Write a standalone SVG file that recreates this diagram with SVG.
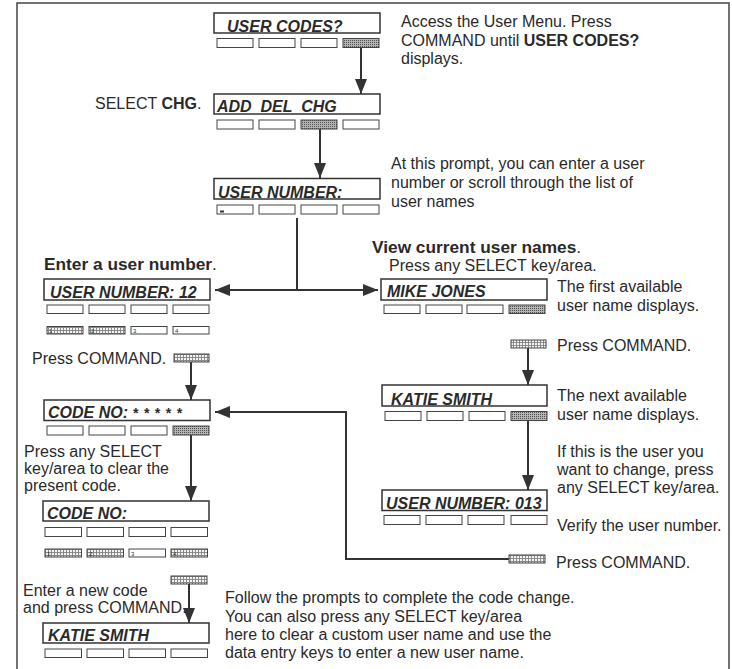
<svg xmlns="http://www.w3.org/2000/svg" width="732" height="669" viewBox="0 0 732 669">
<defs>
<style>
.t{font-family:"Liberation Sans",Arial,Helvetica,sans-serif;font-size:16px;fill:#2a2a2a}
.h{font-family:"Liberation Sans",Arial,Helvetica,sans-serif;font-size:17.3px;font-weight:bold;fill:#2a2a2a}
.b{font-weight:bold}
.d{font-family:"Liberation Sans",Arial,Helvetica,sans-serif;font-size:16px;font-weight:bold;font-style:italic;fill:#2a2a2a;white-space:pre}
.box{fill:#fff;stroke:#333;stroke-width:1.5}
.k{fill:#fff;stroke:#444;stroke-width:1}
.ks{fill:url(#dots);stroke:#444;stroke-width:1}
.kg{fill:url(#grid);stroke:#444;stroke-width:1}
.n{font-family:"Liberation Sans",Arial,sans-serif;font-size:6px;fill:#333}
.c{fill:none;stroke:#333;stroke-width:2}
.a{marker-end:url(#ah)}
</style>
<pattern id="dots" width="2" height="2" patternUnits="userSpaceOnUse"><rect width="2" height="2" fill="#b4b4b4"/><rect width="1" height="1" fill="#505050"/></pattern>
<pattern id="grid" width="3" height="3" patternUnits="userSpaceOnUse"><rect width="3" height="3" fill="#f4f4f4"/><path d="M0,0.5H3M0.5,0V3" stroke="#8a8a8a" stroke-width="1"/></pattern>
<marker id="ah" markerWidth="15" markerHeight="12" refX="15" refY="6" orient="auto" markerUnits="userSpaceOnUse"><path d="M0,0 L15,6 L0,12 z" fill="#333"/></marker>
</defs>
<rect x="0" y="0" width="732" height="669" fill="#fff"/>
<path d="M17,669 V3 H729 V669" fill="none" stroke="#444" stroke-width="1.5"/>

<g id="connectors">
<path class="c a" d="M361,48 V94"/>
<path class="c a" d="M320,129 V178"/>
<path class="c a" d="M297,218 V290 H215"/>
<path class="c a" d="M297,290 H378"/>
<path class="c a" d="M191,362 V400"/>
<path class="c a" d="M528,348 V385"/>
<path class="c a" d="M528,421 V490"/>
<path class="c a" d="M191,435 V501"/>
<path class="c a" d="M509,559 H346 V412 H215"/>
<path class="c a" d="M189,584 V623"/>
</g>

<g id="user-codes">
<rect class="box" x="214" y="13" width="166" height="20"/>
<text class="d" x="227" y="32">USER CODES?</text>
<rect class="k" x="217" y="38.5" width="36" height="9"/>
<rect class="k" x="259" y="38.5" width="36" height="9"/>
<rect class="k" x="301" y="38.5" width="36" height="9"/>
<rect class="ks" x="343" y="38.5" width="36" height="9"/>
</g>
<g id="note-access">
<text class="t" x="401" y="27">Access the User Menu. Press</text>
<text class="t" x="401" y="46">COMMAND until <tspan class="b">USER CODES?</tspan></text>
<text class="t" x="401" y="64">displays.</text>
</g>

<g id="add-del-chg">
<rect class="box" x="214" y="94" width="166" height="20"/>
<text class="d" x="217" y="112">ADD  DEL  CHG</text>
<rect class="k" x="217" y="120" width="36" height="9"/>
<rect class="k" x="259" y="120" width="36" height="9"/>
<rect class="ks" x="301" y="120" width="36" height="9"/>
<rect class="k" x="343" y="120" width="36" height="9"/>
</g>
<g id="note-select-chg">
<text class="t" x="95" y="109">SELECT <tspan class="b">CHG</tspan>.</text>
</g>

<g id="user-number">
<rect class="box" x="214" y="178.5" width="166" height="20.5"/>
<text class="d" x="218" y="197.5">USER NUMBER:</text>
<rect class="k" x="217" y="205" width="36" height="9"/>
<rect x="220" y="210.5" width="4" height="2" fill="#333"/>
<rect class="k" x="259" y="205" width="36" height="9"/>
<rect class="k" x="301" y="205" width="36" height="9"/>
<rect class="k" x="343" y="205" width="36" height="9"/>
</g>
<g id="note-prompt">
<text class="t" x="391" y="169">At this prompt, you can enter a user</text>
<text class="t" x="391" y="188">number or scroll through the list of</text>
<text class="t" x="391" y="207">user names</text>
</g>

<g id="note-enter-number">
<text class="h" x="44" y="270">Enter a user number<tspan style="font-weight:normal">.</tspan></text>
</g>
<g id="user-number-12">
<rect class="box" x="44" y="279" width="166" height="21"/>
<text class="d" x="50" y="297.5">USER NUMBER: 12</text>
<rect class="k" x="47" y="305" width="36" height="8.5"/>
<rect class="k" x="89" y="305" width="36" height="8.5"/>
<rect class="k" x="131" y="305" width="36" height="8.5"/>
<rect class="k" x="173" y="305" width="36" height="8.5"/>
<rect class="kg" x="47" y="326.5" width="36" height="7.5"/>
<text class="n" x="49" y="333">1</text>
<rect class="kg" x="89" y="326.5" width="36" height="7.5"/>
<text class="n" x="91" y="333">2</text>
<rect class="k" x="131" y="326.5" width="36" height="7.5"/>
<text class="n" x="133" y="333">3</text>
<rect class="k" x="173" y="326.5" width="36" height="7.5"/>
<text class="n" x="175" y="333">4</text>
</g>

<g id="note-view-names">
<text class="h" x="372" y="253">View current user names<tspan style="font-weight:normal">.</tspan></text>
<text class="t" x="389" y="271">Press any SELECT key/area.</text>
</g>
<g id="mike-jones">
<rect class="box" x="381" y="279" width="166" height="21"/>
<text class="d" x="387" y="297">MIKE JONES</text>
<rect class="k" x="384" y="305" width="36" height="8.5"/>
<rect class="k" x="426" y="305" width="36" height="8.5"/>
<rect class="k" x="467" y="305" width="36" height="8.5"/>
<rect class="ks" x="509" y="305" width="36" height="8.5"/>
</g>
<g id="note-first">
<text class="t" x="557" y="292">The first available</text>
<text class="t" x="557" y="311">user name displays.</text>
</g>
<g id="cmd-right-1">
<rect class="kg" x="511" y="340" width="35" height="8"/>
<text class="t" x="557" y="351">Press COMMAND.</text>
</g>

<g id="cmd-left-1">
<text class="t" x="32" y="364">Press COMMAND.</text>
<rect class="kg" x="174" y="354" width="35" height="8"/>
</g>

<g id="code-no-stars">
<rect class="box" x="44" y="400" width="166" height="20.5"/>
<text class="d" x="48" y="418">CODE NO: <tspan style="font-size:14px;letter-spacing:0.8px">* * * * *</tspan></text>
<rect class="k" x="47" y="426" width="36" height="9"/>
<rect class="k" x="89" y="426" width="36" height="9"/>
<rect class="k" x="131" y="426" width="36" height="9"/>
<rect class="ks" x="173" y="426" width="36" height="9"/>
</g>

<g id="katie-smith-1">
<rect class="box" x="382" y="385" width="165" height="21"/>
<text class="d" x="391" y="404.5">KATIE SMITH</text>
<rect class="k" x="385" y="411.5" width="36" height="9"/>
<rect class="k" x="427" y="411.5" width="36" height="9"/>
<rect class="k" x="469" y="411.5" width="36" height="9"/>
<rect class="ks" x="511" y="411.5" width="36" height="9"/>
</g>
<g id="note-next">
<text class="t" x="557" y="401">The next available</text>
<text class="t" x="557" y="420">user name displays.</text>
<text class="t" x="557" y="457">If this is the user you</text>
<text class="t" x="557" y="475">want to change, press</text>
<text class="t" x="557" y="493">any SELECT key/area.</text>
</g>

<g id="note-clear">
<text class="t" x="24" y="457">Press any SELECT</text>
<text class="t" x="24" y="474">key/area to clear the</text>
<text class="t" x="24" y="490.5">present code.</text>
</g>

<g id="user-number-013">
<rect class="box" x="382" y="490" width="165" height="20.5"/>
<text class="d" x="386" y="509">USER NUMBER: 013</text>
<rect class="k" x="384" y="515.5" width="36" height="9"/>
<rect class="k" x="426" y="515.5" width="36" height="9"/>
<rect class="k" x="468" y="515.5" width="36" height="9"/>
<rect class="k" x="511" y="515.5" width="36" height="9"/>
</g>
<g id="note-verify">
<text class="t" x="557" y="531">Verify the user number.</text>
</g>
<g id="cmd-right-2">
<rect class="kg" x="509" y="555" width="36" height="8"/>
<text class="t" x="556" y="568">Press COMMAND.</text>
</g>

<g id="code-no">
<rect class="box" x="43" y="501" width="166" height="20"/>
<text class="d" x="47" y="519">CODE NO:</text>
<rect class="k" x="45" y="527.5" width="36.5" height="9"/>
<rect class="k" x="87" y="527.5" width="36.5" height="9"/>
<rect class="k" x="129" y="527.5" width="36.5" height="9"/>
<rect class="k" x="171" y="527.5" width="36.5" height="9"/>
<rect class="kg" x="45" y="549" width="36.5" height="8"/>
<text class="n" x="47" y="556">1</text>
<rect class="kg" x="87" y="549" width="36.5" height="8"/>
<text class="n" x="89" y="556">2</text>
<rect class="k" x="129" y="549" width="36.5" height="8"/>
<text class="n" x="131" y="556">3</text>
<rect class="kg" x="171" y="549" width="36.5" height="8"/>
<text class="n" x="173" y="556">4</text>
</g>

<g id="cmd-left-2">
<rect class="kg" x="171" y="576" width="36" height="8"/>
<text class="t" x="23" y="596">Enter a new code</text>
<text class="t" x="23" y="613">and press COMMAND.</text>
</g>

<g id="katie-smith-2">
<rect class="box" x="43" y="623" width="166" height="20"/>
<text class="d" x="48" y="641">KATIE SMITH</text>
<rect class="k" x="45" y="649" width="36.5" height="8.5"/>
<rect class="k" x="87" y="649" width="36.5" height="8.5"/>
<rect class="k" x="129" y="649" width="36.5" height="8.5"/>
<rect class="k" x="171" y="649" width="36.5" height="8.5"/>
</g>

<g id="note-follow">
<text class="t" x="225" y="603">Follow the prompts to complete the code change.</text>
<text class="t" x="225" y="621.5">You can also press any SELECT key/area</text>
<text class="t" x="225" y="640">here to clear a custom user name and use the</text>
<text class="t" x="225" y="658">data entry keys to enter a new user name.</text>
</g>
</svg>
